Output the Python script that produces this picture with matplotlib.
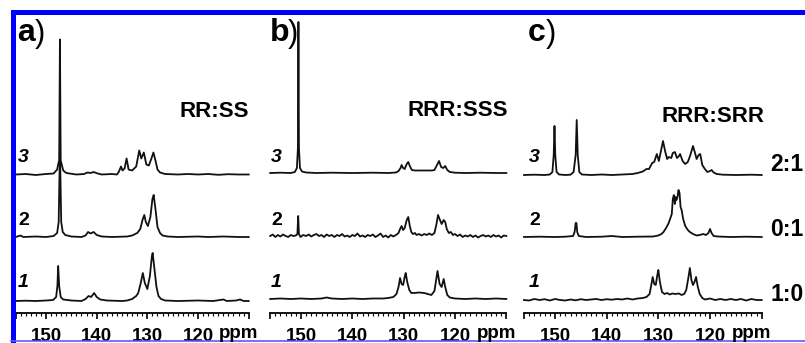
import matplotlib
matplotlib.use("Agg")
import matplotlib.pyplot as plt
from matplotlib.ticker import MultipleLocator, FixedLocator, FixedFormatter
from matplotlib.patches import Rectangle
from matplotlib.lines import Line2D

plt.rcParams['font.family'] = ['Liberation Sans', 'DejaVu Sans']

W, H = 805, 343

# --- spectra: vertices (ppm, height in px above the trace baseline) ---
# panel a, RR:SS
a1_ppm = [156, 154, 152, 150, 148.6, 148.0, 147.75, 147.6, 147.4, 147.1, 146.6, 145, 143, 142.2, 141.6,
          141.1, 140.5, 140, 139.3, 138, 135, 134, 133, 132.2, 131.8, 131.3, 130.9, 130.5, 130.0, 129.5,
          129.1, 128.95, 128.6, 128.2, 127.8, 127.3, 126.5, 124, 120, 117, 115.0, 114.3, 112.5, 111.7, 111, 110]
a1_int = [0, 0.3, 0, 0.5, 1, 4, 15, 35, 15, 4, 1.5, 0.5, 0, 2, 5,
          4, 8, 4, 1.5, 0.5, 0, 0.5, 2, 5, 8, 18, 28, 18, 12, 25,
          45, 48, 32, 14, 5, 2, 0.5, 0, 0.5, 0, 1.5, 0, 0.5, 1.5, 0, 0]
a2_ppm = [156, 155, 154.5, 152, 150, 148.5, 147.8, 147.5, 147.25, 147.0, 146.7, 146.2, 145, 143, 142.2,
          141.7, 141.2, 140.6, 140, 139, 137, 134, 133, 132, 131.4, 130.9, 130.6, 130.3, 129.9, 129.4,
          129.0, 128.75, 128.4, 128.0, 127.5, 127.0, 126, 124, 120, 118, 115, 112, 110]
a2_int = [0, 1.5, 0, 0.5, 0, 1, 4, 15, 88, 15, 5, 2, 0.5, 0, 1.5,
          5, 3.5, 5, 2, 0.5, 0, 0.5, 1.5, 4, 8, 18, 22, 15, 11, 20,
          38, 42, 28, 10, 4, 1.5, 0.5, 0, 0.5, 0, 0.5, 0, 0]
a3_ppm = [156, 154, 152, 150, 148.5, 147.8, 147.6, 147.4, 147.25, 147.1, 146.9, 146.6, 146, 144, 142.5,
          141.8, 141.2, 140.6, 139.8, 139, 137, 136, 135.6, 135.2, 134.9, 134.5, 134.1, 133.7, 133.0, 132.2,
          131.6, 131.2, 130.7, 130.2, 129.7, 129.2, 128.8, 128.4, 128.0, 127.5, 126.5, 124, 122, 120, 118,
          116, 114, 112, 110]
a3_int = [0, 0.5, -0.5, 0.5, 1, 5, 10, 14, 135, 14, 10, 4, 1.5, 0, 0.5,
          2, 1.5, 2.5, 1, 0, 0.5, 0, 3, 8, 4, 6, 16, 5, 4, 8,
          24, 16, 22, 10, 9, 16, 22, 14, 5, 2, 0.5, 0, 0.5, 0, 0.5,
          -0.3, 0.3, 0, 0]

# panel b, RRR:SSS
b1_ppm = [156, 154, 152, 150, 148, 146, 145, 144, 142, 140, 138, 136, 134, 133, 132,
          131.4, 131, 130.7, 130.4, 130.1, 129.8, 129.6, 129.3, 128.9, 128.5, 128, 127, 126, 125.3, 124.6,
          124, 123.7, 123.4, 123.0, 122.6, 122.2, 121.9, 121.5, 121, 120, 118, 116, 114, 112, 110]
b1_int = [0, 0.5, 0, 0.5, 0, 0.5, 1.5, 0.5, 0, 0.5, 0, 0.5, 0.5, 1, 2,
          5, 12, 21, 15, 14, 22, 26, 17, 9, 6, 6, 6.5, 6, 5, 4,
          8, 18, 28, 15, 12, 20, 12, 4, 1.5, 0.5, 0, 0.5, 0, 0.5, 0]
b2_ppm = [156, 155.5, 155, 154.5, 154, 153.5, 153, 152.5, 152, 151.5, 151, 150.7, 150.55, 150.4, 150.1,
          149.6, 149, 148.5, 148, 147.5, 147, 146.5, 146, 145.5, 145, 144.5, 144, 143.5, 143, 142.5,
          142, 141.5, 141, 140.5, 140, 139.5, 139, 138.5, 138, 137.5, 137, 136.5, 136, 135.5, 135,
          134.5, 134, 133.5, 133, 132.5, 132, 131.5, 131, 130.7, 130.4, 130.1, 129.8, 129.4, 129.1, 128.8,
          128.5, 128.2, 127.8, 127.5, 127, 126.5, 126, 125.5, 125, 124.5, 124, 123.6, 123.3, 123.0, 122.6,
          122.2, 121.9, 121.6, 121.2, 120.8, 120.4, 120, 119.5, 119, 118.5, 118, 117.5, 117, 116.5, 116,
          115.5, 115, 114.5, 114, 113.5, 113, 112.5, 112, 111.5, 111, 110.5, 110]
b2_int = [0, 1.5, -1, 1, -0.5, 1.5, 0, -1, 1, 0, 0.5, 2, 20, 2, -1,
          1, 0, 1.5, -0.5, 1, 2, 0, 1, -1, 1.5, 0, 1, -1, 1, 0,
          2, -0.5, 0.5, -1, 1, 0, 2.5, -0.5, 0.5, -1, 1, 0, 1.5, -1, 0.5,
          2.5, -1, 0.5, -1.5, 1, -0.5, 1, 3, 7, 10, 6, 8, 16, 19, 10,
          4, 2, 3, 1, 2, 0.5, 2, 1, 2.5, 1, 3, 12, 21, 17, 12,
          16, 14, 7, 3, 4, 1, 2, 0, 1.5, -1, 0.5, -0.5, 1, -1, 0.5,
          -1.5, 0, 1, -0.5, 0.5, -1, 1, -0.5, 0.5, -1.5, 0.5, 0]
b3_ppm = [156, 154, 152, 151.2, 150.8, 150.6, 150.5, 150.4, 150.2, 149.8, 149, 147, 144, 140, 136,
          133, 131.5, 131, 130.6, 130.4, 130.1, 129.8, 129.4, 129.1, 128.8, 128.4, 127.8, 126, 124.5, 124,
          123.5, 123.1, 122.7, 122.3, 121.9, 121.5, 121, 120, 118, 115, 112, 110]
b3_int = [0, 0.3, 0, 1, 5, 25, 151, 25, 5, 1.5, 0.5, 0, 0.3, 0, 0.3,
          0, 0.5, 2, 5, 8, 5, 4, 9, 11, 7, 3, 2.5, 2.5, 2.5, 3,
          8, 12, 6, 5, 7, 3, 1, 0.3, 0, 0.3, 0, 0]

# panel c, RRR:SRR
c1_ppm = [156, 155, 154, 153, 152, 151, 150, 149, 148, 147, 146, 145, 144, 143, 142,
          141, 140, 139, 138, 137, 136, 135, 134, 133, 132.3, 131.7, 131.4, 131.1, 130.8, 130.5,
          130.2, 130.0, 129.7, 129.3, 128.8, 128.3, 127.8, 127.3, 126.7, 126, 125.5, 125, 124.6, 124.2, 123.9,
          123.6, 123.3, 123.0, 122.7, 122.4, 122.0, 121.5, 121, 120, 119, 118, 117, 116, 115, 114,
          113, 112, 111, 110]
c1_int = [0, -0.5, 1, 0, 0.8, -0.5, 1, 0, -0.5, 0.5, -0.3, 0.8, 0, 0.5, 1,
          0, 0.8, 0.3, 1, 0.5, 1.5, 0.5, 1.5, 2, 3, 6, 14, 23, 16, 15,
          25, 30, 18, 8, 6, 7, 5.5, 6.5, 6, 6.5, 5, 6, 10, 22, 32,
          20, 15, 18, 23, 14, 6, 2, 0.5, 1.5, 0, 1, 0, 1, 0, 1,
          -0.5, 1, 0, 0]
c2_ppm = [156, 153, 150, 148, 146.5, 146.2, 146.0, 145.85, 145.7, 145.4, 144, 141, 139, 137, 134,
          131, 130, 129.4, 129, 128.5, 128, 127.6, 127.4, 127.2, 127.0, 126.8, 126.65, 126.5, 126.3, 126.1,
          125.9, 125.7, 125.5, 125.2, 124.8, 124.3, 123.9, 123.3, 122.6, 122, 121.3, 120.8, 120.3, 120.0, 119.7,
          119.3, 118.5, 116, 113, 110]
c2_int = [0, 0.3, 0, 0.3, 1, 5, 14, 14, 5, 1, 0, 0.3, 1, 0, 0.3,
          0.5, 1.5, 3, 5, 9, 14, 20, 23, 38, 42, 33, 40, 37, 40, 47,
          44, 30, 27, 18, 11, 7, 5, 3, 1.5, 2, 3, 2, 4, 8, 4,
          1, 0.5, 0, 0.3, 0]
c3_ppm = [156, 154, 152, 151, 150.5, 150.25, 150.1, 149.95, 149.7, 149.2, 148, 147, 146.4, 146.0, 145.8,
          145.6, 145.3, 144.8, 143, 141, 139, 137, 135, 134, 133, 132.3, 131.8, 131.2, 130.8, 130.3,
          129.9, 129.5, 129.1, 128.7, 128.3, 128.0, 127.5, 127.2, 126.8, 126.4, 126.0, 125.8, 125.3, 124.8, 124.3,
          123.8, 123.3, 122.9, 122.6, 122.2, 121.9, 121.5, 121.0, 120.5, 120.0, 119.7, 119.3, 118.7, 117.5, 115,
          112, 110]
c3_int = [0, 0.3, 0, 0.5, 3, 20, 49, 20, 3, 0.5, 0, 0.3, 3, 20, 55,
          20, 3, 0.5, 0, 0.5, 0, 0.5, 1, 2, 3.5, 6, 6, 12, 13, 21,
          14, 24, 34, 24, 16, 18, 17, 22, 23, 17, 19, 21, 14, 11, 13,
          20, 29, 22, 16, 20, 21, 10, 6, 3, 4, 5, 2.5, 1, 0.3, 0,
          0.3, 0]

panel_letters = ['a', 'b', 'c']
panel_titles = ['RR:SS', 'RRR:SSS', 'RRR:SRR']
trace_names = ['1', '2', '3']
ratio_labels = ['1:0', '0:1', '2:1']
tick_values = [156, 150, 140, 130, 120, 110]
tick_labels = ['', '150', '140', '130', '120', '']

spectra = [
    [(a1_ppm, a1_int), (a2_ppm, a2_int), (a3_ppm, a3_int)],
    [(b1_ppm, b1_int), (b2_ppm, b2_int), (b3_ppm, b3_int)],
    [(c1_ppm, c1_int), (c2_ppm, c2_int), (c3_ppm, c3_int)],
]

# layout in pixels
panel_x = [(15.6, 248.7), (270.2, 506.3), (524.0, 761.7)]
axis_y, top_y = 313, 15
offsets = [[12, 76, 138.5], [14, 77, 140], [13, 76, 138]]
title_pos = [(249, 117), (508, 116), (764, 122)]
letter_x = [17, 270, 528]
name_base = [287, 225, 162]
ratio_base = [301, 236, 171]


def fx(x):
    return x / W


def fy(y):
    return 1 - y / H


fig = plt.figure(figsize=(W / 100, H / 100), dpi=100)

for i in range(3):
    x0, x1 = panel_x[i]
    ax = fig.add_axes([fx(x0), fy(axis_y), (x1 - x0) / W, (axis_y - top_y) / H])
    for k, (ppm, inten) in enumerate(spectra[i]):
        ax.plot(ppm, [v + offsets[i][k] for v in inten], color='#111111', lw=1.3,
                clip_on=False, solid_joinstyle='round')
    ax.set_xlim(156, 110)
    ax.set_ylim(0, axis_y - top_y)
    for s in ['top', 'left', 'right']:
        ax.spines[s].set_visible(False)
    ax.spines['bottom'].set_linewidth(1.3)
    ax.set_yticks([])
    ax.xaxis.set_major_locator(FixedLocator(tick_values))
    ax.xaxis.set_major_formatter(FixedFormatter(tick_labels))
    ax.xaxis.set_minor_locator(MultipleLocator(1))
    ax.tick_params(axis='x', which='major', direction='out', length=4, width=1.2, pad=6.5,
                   labelsize=13.5)
    ax.tick_params(axis='x', which='minor', direction='out', length=2, width=0.8)
    for lab in ax.get_xticklabels():
        lab.set_fontweight('bold')
    ax.set_facecolor('none')

    # ppm unit after the 120 label
    fig.text(fx(x0 + (x1 - x0) * (156 - 112.0) / 46), fy(338), 'ppm', ha='center', va='baseline',
             fontsize=13.5, fontweight='bold')
    # panel letter
    fig.text(fx(letter_x[i]), fy(41), panel_letters[i], ha='left', va='baseline',
             fontsize=23, fontweight='bold')
    fig.text(fx(letter_x[i] + 18), fy(42), ')', ha='left', va='baseline', fontsize=22)
    # title
    tx, ty = title_pos[i]
    fig.text(fx(tx), fy(ty), panel_titles[i], ha='right', va='baseline', fontsize=16,
             fontweight='bold')
    # trace numbers
    for k in range(3):
        style = 'normal' if trace_names[k] == '2' else 'italic'
        fig.text(fx(letter_x[i] + 1), fy(name_base[k]), trace_names[k], ha='left', va='baseline',
                 fontsize=14, fontweight='bold', fontstyle=style)

for k in range(3):
    fig.text(fx(770), fy(ratio_base[k]), ratio_labels[k], ha='left', va='baseline', fontsize=16.5,
             fontweight='bold')

# blue frame of the original page crop
blue = '#0000ff'
fig.add_artist(Rectangle((fx(11), fy(15)), 1 - fx(11), 5 / H, transform=fig.transFigure,
                         color=blue, lw=0))
fig.add_artist(Rectangle((fx(11), 0), 5 / W, fy(10), transform=fig.transFigure,
                         color=blue, lw=0))
fig.add_artist(Line2D([fx(11), 1], [fy(341), fy(341)], transform=fig.transFigure,
                      color='#5a5aff', lw=1.2))

fig.savefig('out.png', dpi=100)
